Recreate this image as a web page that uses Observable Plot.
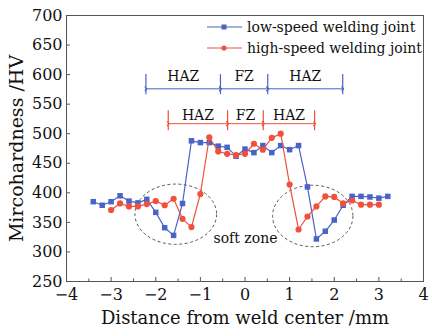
<!DOCTYPE html>
<html><head><meta charset="utf-8">
<script src="https://cdn.jsdelivr.net/npm/d3@7"></script>
<script src="https://cdn.jsdelivr.net/npm/@observablehq/plot@0.6"></script>
<style>
html,body{margin:0;padding:0;background:#fff;}
#wrap{position:relative;width:432px;height:336px;font-family:"DejaVu Serif",serif;}
.leg{position:absolute;left:207px;display:flex;align-items:center;font-size:14px;color:#111;white-space:nowrap;}
.leg svg{margin-right:5px;}
</style>
</head><body>
<div id="wrap"></div>
<script>
// ---- data ----
const lowX  = [-3.4,-3.2,-3.0,-2.8,-2.6,-2.4,-2.2,-2.0,-1.8,-1.6,-1.4,-1.2,-1.0,-0.8,-0.6,-0.4,-0.2,0.0,0.2,0.4,0.6,0.8,1.0,1.2,1.4,1.6,1.8,2.0,2.2,2.4,2.6,2.8,3.0,3.2];
const lowHV = [385,379,385,395,386,383,389,367,341,328,382,488,485,485,479,477,462,474,468,480,468,480,473,480,410,322,335,354,379,394,394,393,391,394];
const highX  = [-3.0,-2.8,-2.6,-2.4,-2.2,-2.0,-1.8,-1.6,-1.4,-1.2,-1.0,-0.8,-0.6,-0.4,-0.2,0.0,0.2,0.4,0.6,0.8,1.0,1.2,1.4,1.6,1.8,2.0,2.2,2.4,2.6,2.8,3.0];
const highHV = [371,382,377,377,381,386,379,390,356,342,398,494,470,466,464,466,483,473,493,500,414,338,360,377,394,393,382,387,380,380,380];
const seriesNames = ["low-speed welding joint","high-speed welding joint"];
const colors = ["#4a63c6","#f0503c"];
const xTicks = [-4,-3,-2,-1,0,1,2,3,4];
const xMinor = [-3.5,-2.5,-1.5,-0.5,0.5,1.5,2.5,3.5];
const yTicks = [250,300,350,400,450,500,550,600,650,700];
const xTitle = "Distance from weld center /mm";
const yTitle = "Mircohardness /HV";
// zone annotations
const lowBounds = [-2.22,-0.55,0.51,2.19];
const lowZoneLabels = ["HAZ","FZ","HAZ"];
const lowZoneHV = 576, lowBarHV = [566,600], lowLabelHV = 596;
const highBounds = [-1.72,-0.39,0.41,1.56];
const highZoneLabels = ["HAZ","FZ","HAZ"];
const highZoneHV = 517, highBarHV = [505,539], highLabelHV = 531;
// soft zone ellipses
const softCx = [-1.54, 1.53], softCy = [363, 360], softRx = [0.915, 0.90], softRy = [51, 52];
const softLabel = {text:"soft zone", x:0.01, y:323};

// ---- build tables ----
const low = lowX.map((x,i)=>({x, y:lowHV[i]}));
const high = highX.map((x,i)=>({x, y:highHV[i]}));
function zones(bounds, labels){return labels.map((l,i)=>({x1:bounds[i],x2:bounds[i+1],xm:(bounds[i]+bounds[i+1])/2,label:l}));}
const lowZones = zones(lowBounds, lowZoneLabels);
const highZones = zones(highBounds, highZoneLabels);
const ellipses = softCx.map((cx,i)=>({cx, cy:softCy[i], rx:softRx[i], ry:softRy[i]}));

function ellipseMark(data){
  return Plot.dot(data,{x:"cx",y:"cy",render(index, scales){
    const g = d3.create("svg:g");
    for (const i of index){
      const d = data[i];
      const cx = scales.x(d.cx), cy = scales.y(d.cy);
      g.append("ellipse").attr("cx",cx).attr("cy",cy)
        .attr("rx",Math.abs(scales.x(d.cx+d.rx)-cx))
        .attr("ry",Math.abs(scales.y(d.cy+d.ry)-cy))
        .attr("fill","none").attr("stroke","#555").attr("stroke-width",1)
        .attr("stroke-dasharray","3,2.5");
    }
    return g.node();
  }});
}

function zoneMarks(z, bounds, color, lineHV, barHV, labelHV){
  return [
    Plot.link(z,{x1:"x1",x2:"x2",y1:()=>lineHV,y2:()=>lineHV,stroke:color,strokeWidth:1,markerStart:"arrow",markerEnd:"arrow"}),
    Plot.ruleX(bounds,{y1:barHV[0],y2:barHV[1],stroke:color,strokeWidth:1.2}),
    Plot.text(z,{x:"xm",y:()=>labelHV,text:"label",fontSize:14,fill:"#111"})
  ];
}

const chart = Plot.plot({
  width:432, height:336,
  marginLeft:66, marginRight:9, marginTop:15, marginBottom:55,
  x:{domain:[-4,4]},
  y:{domain:[250,700]},
  style:{fontFamily:"DejaVu Serif, serif", color:"#111", background:"#fff"},
  marks:[
    Plot.frame({stroke:"#555"}),
    Plot.axisX({ticks:xTicks, tickSize:-4, tickPadding:11, fontSize:16, label:null, tickFormat:d=>d<0?"\u2212"+(-d):String(d), stroke:"#555"}),
    Plot.axisX({ticks:xMinor, tickSize:-2.5, tickFormat:()=>"", label:null, stroke:"#555"}),
    Plot.axisY({ticks:yTicks, tickSize:-4, tickPadding:8, fontSize:16, label:null, stroke:"#555"}),
    Plot.text([xTitle],{frameAnchor:"bottom",dy:42,fontSize:18,fill:"#111"}),
    Plot.text([yTitle],{frameAnchor:"left",textAnchor:"middle",dx:-50,rotate:-90,fontSize:19,fill:"#111"}),
    ellipseMark(ellipses),
    Plot.text([softLabel],{x:"x",y:"y",text:"text",fontSize:14,fill:"#111"}),
    ...zoneMarks(lowZones, lowBounds, colors[0], lowZoneHV, lowBarHV, lowLabelHV),
    ...zoneMarks(highZones, highBounds, colors[1], highZoneHV, highBarHV, highLabelHV),
    Plot.line(low,{x:"x",y:"y",stroke:colors[0],strokeWidth:1.2}),
    Plot.dot(low,{x:"x",y:"y",symbol:"square",r:3.1,fill:colors[0],stroke:"none"}),
    Plot.line(high,{x:"x",y:"y",stroke:colors[1],strokeWidth:1.2}),
    Plot.dot(high,{x:"x",y:"y",r:3.1,fill:colors[1],stroke:"none"})
  ]
});
const wrap = document.getElementById("wrap");
wrap.appendChild(chart);

// legend (HTML overlay)
const legTops = [19, 40];
seriesNames.forEach((name,i)=>{
  const row = document.createElement("div");
  row.className = "leg";
  row.style.top = legTops[i]+"px";
  const marker = i===0
    ? `<rect x="14.5" y="2.5" width="5" height="5" fill="${colors[i]}"/>`
    : `<circle cx="17" cy="5" r="2.6" fill="${colors[i]}"/>`;
  row.innerHTML = `<svg width="35" height="10"><line x1="0" x2="35" y1="5" y2="5" stroke="${colors[i]}" stroke-width="1.2"/>${marker}</svg><span>${name}</span>`;
  wrap.appendChild(row);
});
</script>
</body></html>
